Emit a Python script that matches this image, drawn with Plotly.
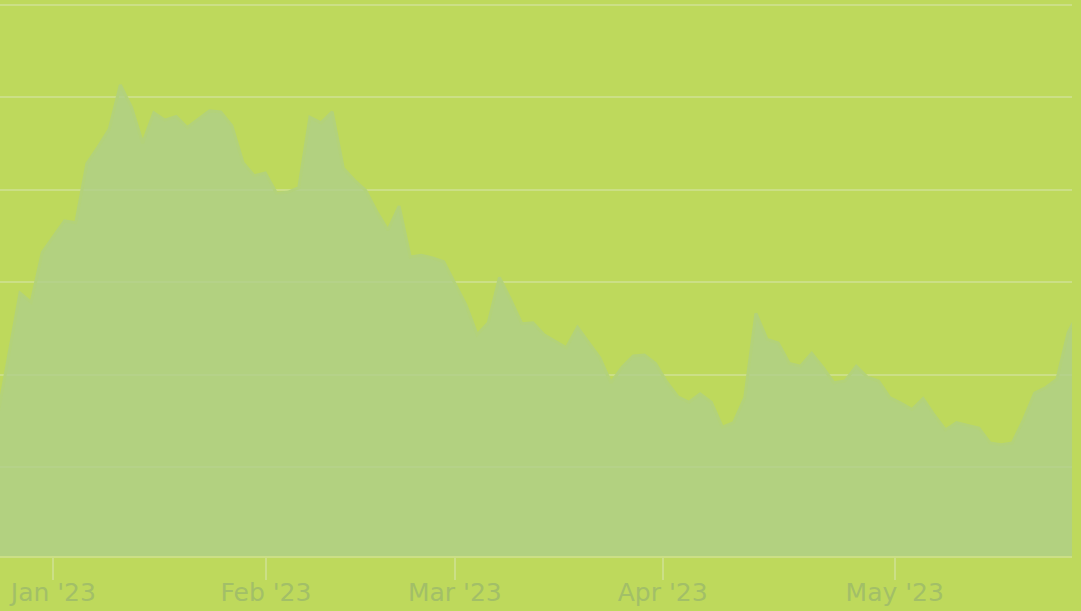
import plotly.graph_objects as go

# Series values (one value per sample, equally spaced samples)
values = [
    15.5, 22.2, 28.8, 27.8, 33.2, 34.9, 36.6, 36.4, 42.8, 44.6,
    46.5, 51.3, 48.9, 45.0, 48.3, 47.5, 47.9, 46.7, 47.6, 48.5,
    48.4, 46.9, 42.9, 41.5, 41.8, 39.6, 39.7, 40.2, 47.8, 47.2,
    48.4, 42.3, 41.0, 39.9, 37.6, 35.6, 38.2, 32.7, 32.9, 32.6,
    32.2, 29.9, 27.5, 24.3, 25.6, 30.5, 28.1, 25.5, 25.6, 24.3,
    23.6, 22.9, 25.1, 23.5, 21.8, 19.1, 20.8, 22.0, 22.1, 21.2,
    19.2, 17.6, 17.0, 17.9, 17.0, 14.3, 14.8, 17.5, 26.6, 23.8,
    23.4, 21.2, 20.9, 22.3, 20.8, 19.1, 19.3, 20.9, 19.7, 19.3,
    17.5, 16.9, 16.2, 17.4, 15.6, 14.0, 14.8, 14.5, 14.2, 12.6,
    12.4, 12.6, 15.1, 18.0, 18.6, 19.5, 24.5, 26.9,
]
sample_index = list(range(len(values)))

# Month tick labels and their positions on the sample axis
tick_labels = ["Jan '23", "Feb '23", "Mar '23", "Apr '23", "May '23"]
tick_positions = [4.99, 24.06, 41.0, 59.64, 80.45]

BG = "#bed95c"
GRID = "#cbdf86"
TEXT = "#a2bf68"

fig = go.Figure(
    go.Scatter(
        x=sample_index,
        y=values,
        mode="lines",
        line=dict(color="#b3d27a", width=3),
        fill="tozeroy",
        fillcolor="rgba(174,206,138,0.78)",
        hoverinfo="skip",
    )
)

fig.update_layout(
    width=1081,
    height=611,
    margin=dict(l=0, r=9, t=1, b=55),
    paper_bgcolor=BG,
    plot_bgcolor=BG,
    showlegend=False,
    font=dict(family="DejaVu Sans", size=25, color=TEXT),
)

fig.update_xaxes(
    range=[0.206, 96.35],
    tickmode="array",
    tickvals=tick_positions,
    ticktext=tick_labels,
    showgrid=False,
    zeroline=False,
    showline=True,
    linecolor=GRID,
    linewidth=2,
    ticks="outside",
    ticklen=22,
    tickwidth=2,
    tickcolor=GRID,
    ticklabelstandoff=-9,
    automargin=False,
    tickfont=dict(family="DejaVu Sans", size=25, color=TEXT),
)

fig.update_yaxes(
    range=[0.38, 60.38],
    tickmode="array",
    tickvals=[10, 20, 30, 40, 50, 60],
    showgrid=True,
    gridcolor=GRID,
    gridwidth=2,
    zeroline=False,
    showticklabels=False,
    ticks="",
    automargin=False,
)

fig.write_html(
    "out.html",
    config={"displayModeBar": False},
    post_script="document.body.style.margin='0';",
)
